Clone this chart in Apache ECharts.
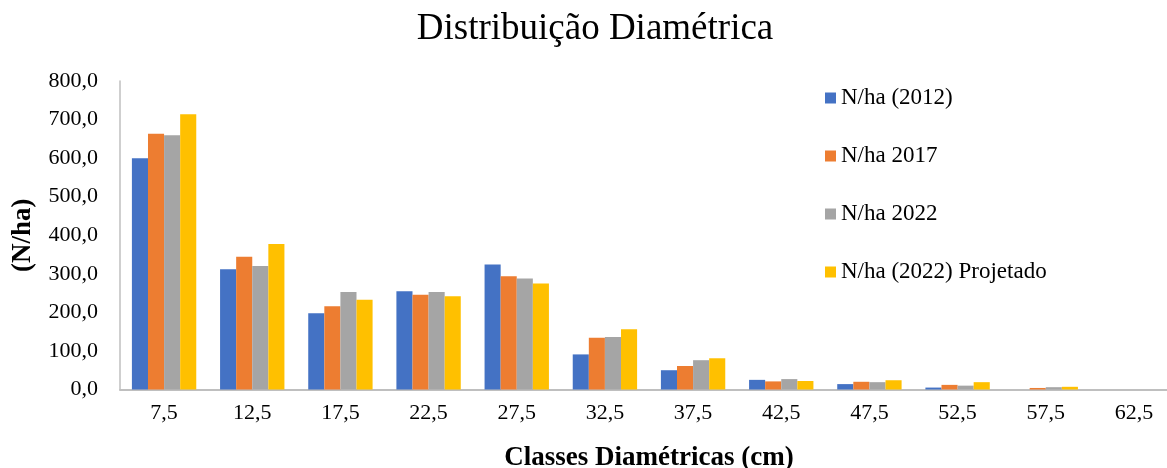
<!DOCTYPE html>
<html>
<head>
<meta charset="utf-8">
<script src="https://cdn.jsdelivr.net/npm/echarts@6/dist/echarts.min.js"></script>
<style>
  html, body { margin: 0; padding: 0; background: #fff; }
  #chart { width: 1167px; height: 468px; }
</style>
</head>
<body>
<div id="chart"></div>
<script>
// Diameter classes (cm) and stems per hectare for each inventory
const classes = ['7,5', '12,5', '17,5', '22,5', '27,5', '32,5', '37,5', '42,5', '47,5', '52,5', '57,5', '62,5'];
const nha2012 = [600, 312, 198, 255, 324, 91, 50, 25, 14, 5, 0, 0];
const nha2017 = [663, 344, 216, 246, 294, 134, 61, 21, 20, 12, 4, 0];
const nha2022 = [659, 320, 253, 253, 288, 136, 76, 27, 19, 10, 6, 0];
const nha2022proj = [714, 377, 233, 242, 275, 156, 81, 22, 24, 19, 7, 0];

const seriesNames = ['N/ha (2012)', 'N/ha 2017', 'N/ha 2022', 'N/ha (2022) Projetado'];
const seriesColors = ['#4472C4', '#ED7D31', '#A5A5A5', '#FFC000'];
const seriesData = [nha2012, nha2017, nha2022, nha2022proj];

const serif = "'Times New Roman', 'Liberation Serif', serif";

const chart = echarts.init(document.getElementById('chart'), null, { renderer: 'canvas' });

chart.setOption({
  animation: false,
  textStyle: { fontFamily: serif, color: '#000' },
  title: {
    text: 'Distribuição Diamétrica',
    left: 590,
    textAlign: 'center',
    top: 6,
    textStyle: { fontFamily: serif, fontSize: 37, fontWeight: 'normal', color: '#000' }
  },
  legend: {
    orient: 'vertical',
    left: 820,
    top: 81,
    itemWidth: 11,
    itemHeight: 11,
    itemGap: 34,
    icon: 'rect',
    textStyle: { fontFamily: serif, fontSize: 23, color: '#000', lineHeight: 24 },
    data: seriesNames
  },
  // the plot runs a little past the right edge of the canvas
  grid: {
    left: 120, top: 81, bottom: 78.5, right: -11,
    containLabel: false,
    outerBoundsMode: 'none'
  },
  xAxis: {
    type: 'category',
    data: classes,
    name: 'Classes Diamétricas (cm)',
    nameLocation: 'middle',
    nameGap: 55,
    nameTextStyle: { fontFamily: serif, fontSize: 27, fontWeight: 'bold', color: '#000' },
    axisLine: { lineStyle: { color: '#BFBFBF', width: 2 } },
    axisTick: { show: false },
    axisLabel: { fontFamily: serif, fontSize: 22, color: '#000', margin: 13 }
  },
  yAxis: {
    type: 'value',
    min: 0,
    max: 800,
    interval: 100,
    name: '(N/ha)',
    nameLocation: 'middle',
    nameRotate: 90,
    nameGap: 83,
    nameTextStyle: { fontFamily: serif, fontSize: 27, fontWeight: 'bold', color: '#000' },
    axisLine: { show: true, lineStyle: { color: '#BFBFBF', width: 1.5 } },
    axisTick: { show: false },
    splitLine: { show: false },
    axisLabel: {
      fontFamily: serif, fontSize: 22, color: '#000', margin: 22,
      formatter: v => v.toFixed(1).replace('.', ',')
    }
  },
  series: seriesNames.map((name, i) => ({
    name,
    type: 'bar',
    data: seriesData[i],
    itemStyle: { color: seriesColors[i] },
    barGap: '0%',
    barCategoryGap: '27%'
  }))
});
</script>
</body>
</html>
